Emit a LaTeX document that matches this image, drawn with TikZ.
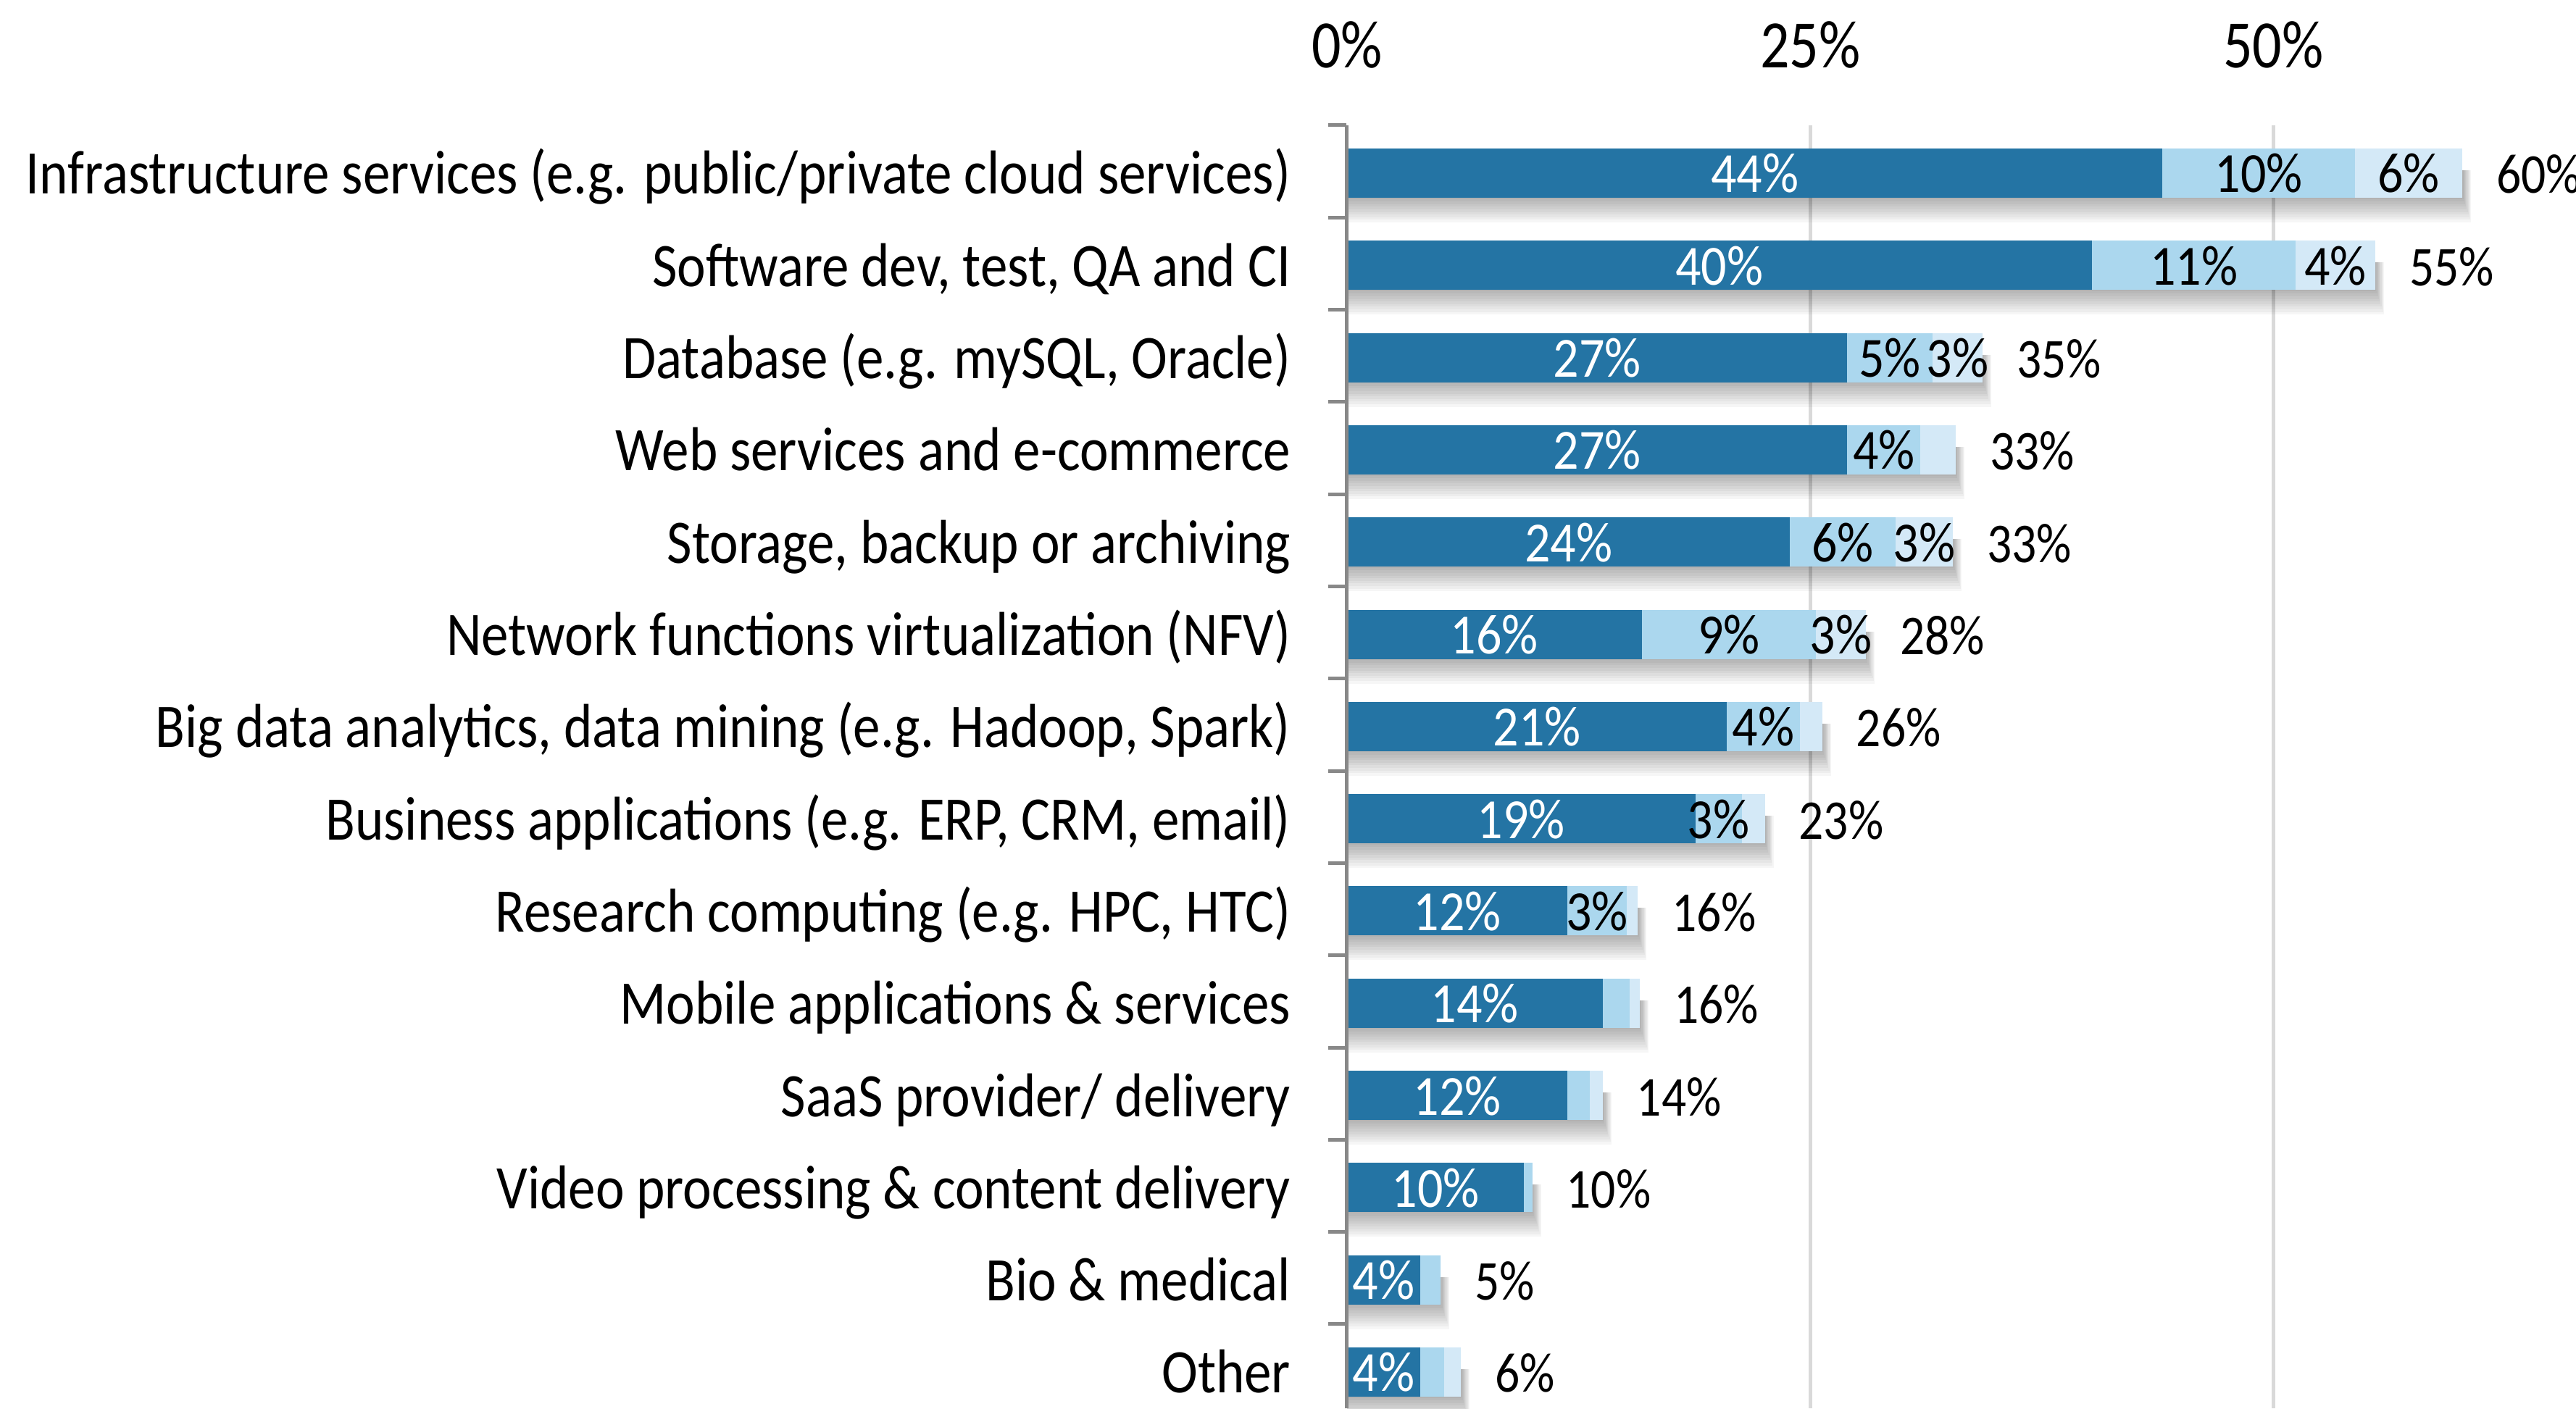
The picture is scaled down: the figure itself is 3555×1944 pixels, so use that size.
\documentclass[tikz,border=0pt]{standalone}
\usepackage{fontspec}
\setmainfont{Carlito}
\definecolor{barDark}{HTML}{2474A4}
\definecolor{barLight}{HTML}{ABD7EE}
\definecolor{barPale}{HTML}{D4E9F7}
\definecolor{gridGray}{HTML}{D9D9D9}
\definecolor{axisGray}{HTML}{888888}
\begin{document}
\begin{tikzpicture}
[x=0.2pt,y=-0.2pt,
  catDecorate/.style={anchor=base east,inner sep=0pt,font=\fontsize{15}{18}\selectfont,yscale=1.14,transform shape},
  segDecorate/.style={anchor=base,inner sep=0pt,font=\fontsize{14}{17}\selectfont,yscale=1.12,transform shape},
  totDecorate/.style={anchor=base west,inner sep=0pt,font=\fontsize{13.5}{16}\selectfont,yscale=1.15,transform shape},
  tickDecorate/.style={anchor=base,inner sep=0pt,font=\fontsize{16}{19}\selectfont,yscale=1.17,transform shape},
  gridDecorate/.style={gridGray,line width=1pt},
  axisDecorate/.style={axisGray,line width=1pt},
  shadowDecorate/.style={black,opacity=0.034}]
\useasboundingbox (0,0) rectangle (3555,1944);
\def\xo{1859}
\def\u{25.57}
%% grid lines and axis labels
\foreach \p in {0,25,50}
{
  \node (tick\p) at (\xo+\p*\u,94) [tickDecorate] {\p\%};
}
\foreach \p in {25,50}
{
  \draw[gridDecorate] (\xo+\p*\u,173) -- (\xo+\p*\u,1944);
}
%% bars: row/name/dark/light/pale/labels/total
\foreach \row/\name/\a/\b/\c/\la/\lb/\lc/\tot in {
  1/{Infrastructure services (e.g. public/private cloud services)}/44/10.4/5.8/44\%/10\%/6\%/60\%,
  2/{Software dev, test, QA and CI}/40.2/11/4.3/40\%/11\%/4\%/55\%,
  3/{Database (e.g. mySQL, Oracle)}/27/4.6/2.7/27\%/5\%/3\%/35\%,
  4/{Web services and e-commerce}/27/3.95/1.9/27\%/4\%/{}/33\%,
  5/{Storage, backup or archiving}/23.9/5.7/3.1/24\%/6\%/3\%/33\%,
  6/{Network functions virtualization (NFV)}/15.9/9.4/2.7/16\%/9\%/3\%/28\%,
  7/{Big data analytics, data mining (e.g. Hadoop, Spark)}/20.5/3.95/1.2/21\%/4\%/{}/26\%,
  8/{Business applications (e.g. ERP, CRM, email)}/18.8/2.5/1.25/19\%/3\%/{}/23\%,
  9/{Research computing (e.g. HPC, HTC)}/11.9/3.2/0.6/12\%/3\%/{}/16\%,
  10/{Mobile applications \& services}/13.8/1.45/0.55/14\%/{}/{}/16\%,
  11/{SaaS provider/ delivery}/11.9/1.2/0.7/12\%/{}/{}/14\%,
  12/{Video processing \& content delivery}/9.55/0.45/0/10\%/{}/{}/10\%,
  13/{Bio \& medical}/3.95/1.1/0/4\%/{}/{}/5\%,
  14/{Other}/3.95/1.3/0.9/4\%/{}/{}/6\%}
{
  \pgfmathsetmacro\yt{205+127.3*(\row-1)}
  \pgfmathsetmacro\xa{\xo+\a*\u}
  \pgfmathsetmacro\xb{\xa+\b*\u}
  \pgfmathsetmacro\xc{\xb+\c*\u}
  %% soft shadow under the bar
  \foreach \s in {1,...,10}
  {
    \fill[shadowDecorate] (\xo,\yt+30) rectangle (\xc+\s*1.2,\yt+66+\s*3.6);
  }
  \fill[barDark] (\xo,\yt) rectangle (\xa,\yt+68);
  \fill[barLight] (\xa,\yt) rectangle (\xb,\yt+68);
  \fill[barPale] (\xb,\yt) rectangle (\xc,\yt+68);
  \node (cat\row) at (1782,\yt+63) [catDecorate] {\name};
  \node (dark\row) at ({(\xo+\xa)/2},\yt+61) [segDecorate,white] {\la};
  \node (light\row) at ({(\xa+\xb)/2},\yt+61) [segDecorate] {\lb};
  \node (pale\row) at ({(\xb+\xc)/2},\yt+61) [segDecorate] {\lc};
  \node (tot\row) at (\xc+46,\yt+62) [totDecorate] {\tot};
}
%% axis and ticks
\draw[axisDecorate] (1858,173) -- (1858,1944);
\foreach \k in {0,...,13}
{
  \draw[axisDecorate] (1833,173+127.3*\k) -- (1858,173+127.3*\k);
}
\end{tikzpicture}
\end{document}
